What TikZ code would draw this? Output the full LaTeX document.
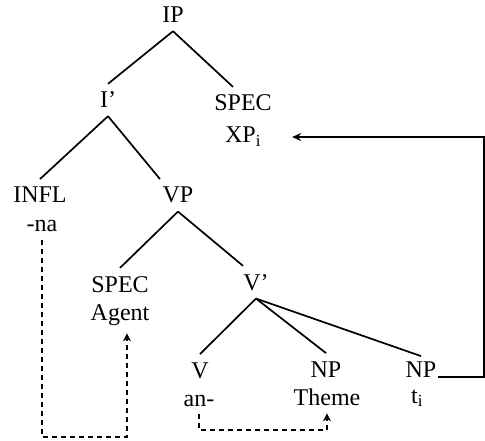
\documentclass[tikz,border=0pt]{standalone}
\usepackage{fontspec}
\setmainfont{Liberation Serif}
\usetikzlibrary{arrows.meta, calc, positioning}

\begin{document}
\begin{tikzpicture}[
    x=1pt, y=-1pt,
    every node/.style={font=\fontsize{24}{26}\selectfont, anchor=base,
                       inner xsep=1pt, inner ysep=8pt},
    ast/.style={line width=1.7pt},
    verbindung/.style={line width=1.2pt, -{Stealth[length=9pt, width=8pt]}},
    gestrichelt/.style={line width=1.2pt, dash pattern=on 5pt off 4pt,
                        -{Stealth[length=8pt, width=8pt]}},
  ]
  \useasboundingbox (0,0) rectangle (485,441);

  % Knoten (Grundlinie)
  \node (ip)    at (173,23)  {IP};
  \node (ibar)  at (108,108) {I’};
  \node (spec1) at (243,111) {SPEC};
  \node (xp)    at (243,143) {XP\textsubscript{i}};
  \node (infl)  at (40,203)  {INFL};
  \node (na)    at (42,232)  {-na};
  \node (vp)    at (178,203) {VP};
  \node (spec2) at (120,292) {SPEC};
  \node (agent) at (120,320) {Agent};
  \node (vbar)  at (256,290) {V’};
  \node (v)     at (200,378) {V};
  \node (an)    at (199,406) {an-};
  \node (np2)   at (326,377) {NP};
  \node (theme) at (327,405) {Theme};
  \node (np3)   at (421,377) {NP};
  \node (ti)    at (417,403) {t\textsubscript{i}};

  \coordinate (rand)   at (484,0);
  \coordinate (boden1) at (0,437);
  \coordinate (boden2) at (0,430);

  % Baum
  \draw[ast] (ip.south) -- (ibar.north);
  \draw[ast] (ip.south) -- ([xshift=-10pt]spec1.north);
  \draw[ast] (ibar.south) -- (infl.north);
  \draw[ast] (ibar.south) -- ([xshift=-18pt]vp.north);
  \draw[ast] (vp.south) -- (spec2.north);
  \draw[ast] (vp.south) -- ([xshift=-13pt]vbar.north);
  \draw[ast] (vbar.south) -- (v.north);
  \draw[ast] (vbar.south) -- (np2.north);
  \draw[ast] (vbar.south) -- ([yshift=-3pt]np3.north);

  % Bewegung
  \draw[verbindung, shorten >=30pt] (np3.base east) -- (np3.base east -| rand)
    -- (xp.east -| rand) -- (xp.east);
  \draw[gestrichelt] (na.south) -- (na.south |- boden1)
    -- ([xshift=7pt]agent.south |- boden1) -- ([xshift=7pt]agent.south);
  \draw[gestrichelt] (an.south) -- (an.south |- boden2)
    -- (theme.south |- boden2) -- (theme.south);
\end{tikzpicture}
\end{document}
